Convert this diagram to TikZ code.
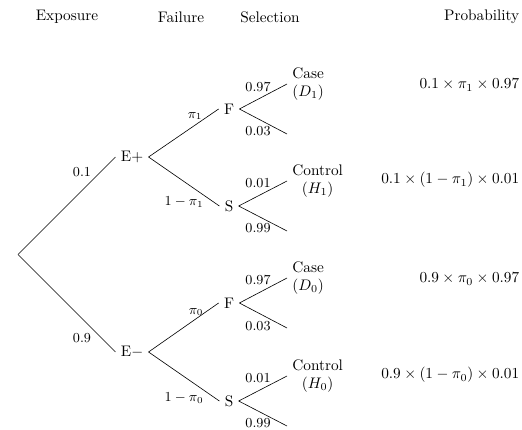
\documentclass[tikz,border=0pt]{standalone}
\usepackage{amsmath}
\usepackage{amssymb}

\begin{document}
\begin{tikzpicture}[x=0.023cm, y=-0.023cm,
    lbl/.style={inner sep=1pt, font=\small},
    leaf/.style={anchor=west, align=center},
    prob/.style={anchor=east, inner sep=1pt}]
    \useasboundingbox (0,0) rectangle (522,430);
    % column headings
    \node (hexp) at (67,17) {Exposure};
    \node (hfail) at (181,17) {Failure};
    \node (hsel) at (270,17) {Selection};
    \node[prob] (hprob) at (521,17) {Probability};

    % exposure
    \coordinate (root) at (18,254.5);
    \node (ep) at (132,157) {E$+$};
    \node (em) at (132,352) {E$-$};
    \draw (root) -- (ep.west);
    \draw (root) -- (em.west);
    \node[lbl] at (82,172) {0.1};
    \node[lbl] at (82,338) {0.9};

    % failure
    \node (f1) at (229,109) {F};
    \node (s1) at (229,206) {S};
    \node (f0) at (229,303) {F};
    \node (s0) at (229,401) {S};
    \draw (ep.east) -- (f1.west);
    \draw (ep.east) -- (s1.west);
    \draw (em.east) -- (f0.west);
    \draw (em.east) -- (s0.west);
    \node[lbl] at (195,116) {$\pi_1$};
    \node[lbl] at (184,202) {$1-\pi_1$};
    \node[lbl] at (196,312) {$\pi_0$};
    \node[lbl] at (184,398) {$1-\pi_0$};

    % selection
    \coordinate (f1u) at (287,84);
    \coordinate (f1d) at (287,134);
    \coordinate (s1u) at (287,181);
    \coordinate (s1d) at (287,231);
    \coordinate (f0u) at (287,278);
    \coordinate (f0d) at (287,328);
    \coordinate (s0u) at (287,376);
    \coordinate (s0d) at (287,426);
    \draw (f1.east) -- (f1u);
    \draw (f1.east) -- (f1d);
    \draw (s1.east) -- (s1u);
    \draw (s1.east) -- (s1d);
    \draw (f0.east) -- (f0u);
    \draw (f0.east) -- (f0d);
    \draw (s0.east) -- (s0u);
    \draw (s0.east) -- (s0d);
    \node[lbl] at (258,87) {0.97};
    \node[lbl] at (258,131) {0.03};
    \node[lbl] at (258,183) {0.01};
    \node[lbl] at (258,228) {0.99};
    \node[lbl] at (258,280) {0.97};
    \node[lbl] at (258,326) {0.03};
    \node[lbl] at (258,378) {0.01};
    \node[lbl] at (258,423) {0.99};

    \node[leaf] (case1) at (f1u) {Case\\$(D_1)$};
    \node[leaf] (ctrl1) at (s1u) {Control\\$(H_1)$};
    \node[leaf] (case0) at (f0u) {Case\\$(D_0)$};
    \node[leaf] (ctrl0) at (s0u) {Control\\$(H_0)$};

    % probabilities
    \node[prob] (p1) at (521,85) {$0.1\times\pi_1\times0.97$};
    \node[prob] (p2) at (521,180) {$0.1\times(1-\pi_1)\times0.01$};
    \node[prob] (p3) at (521,279) {$0.9\times\pi_0\times0.97$};
    \node[prob] (p4) at (521,375) {$0.9\times(1-\pi_0)\times0.01$};
\end{tikzpicture}
\end{document}
